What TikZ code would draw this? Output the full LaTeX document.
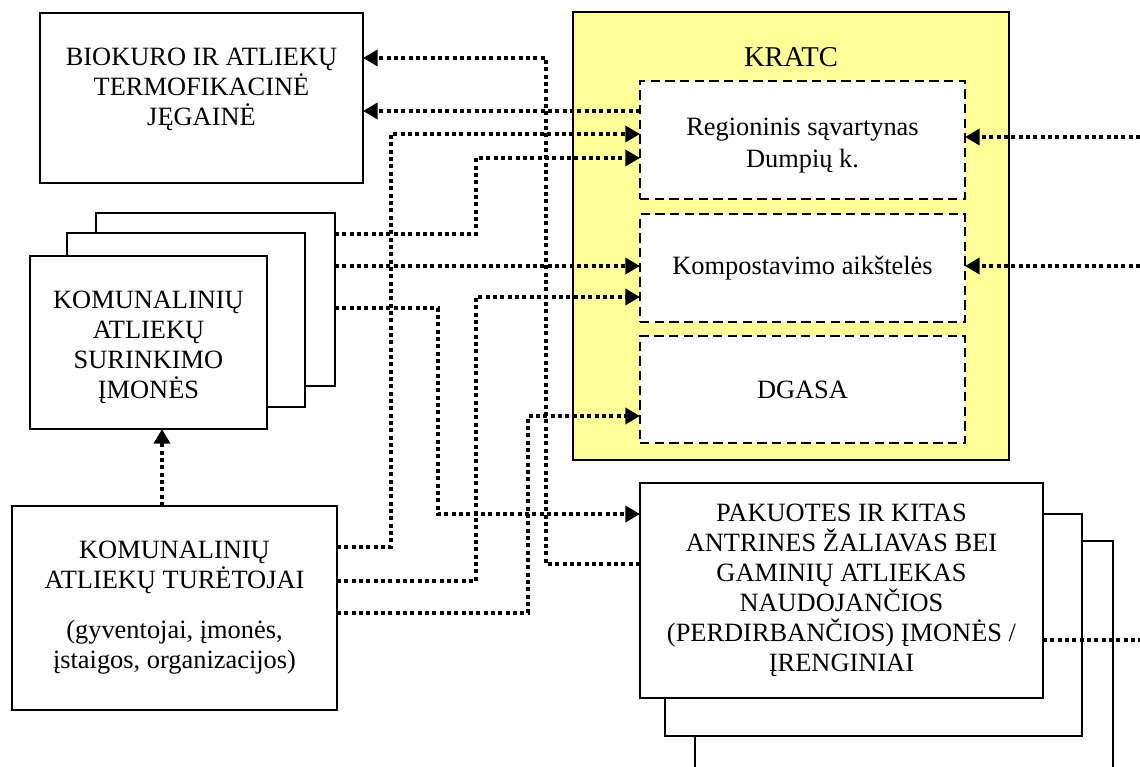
\documentclass[tikz,border=0pt]{standalone}
\usepackage{fontspec}
\setmainfont{Liberation Serif}
\usetikzlibrary{arrows.meta, positioning, calc}
\definecolor{kratcyellow}{RGB}{255,255,153}
\newcommand{\diagfont}{\fontsize{19.8pt}{22.5pt}\selectfont}

\begin{document}
\begin{tikzpicture}[x=0.75pt, y=-0.75pt,
  box/.style={draw, line width=2pt, fill=white, inner sep=0pt, outer sep=0pt, font=\diagfont, align=center},
  part/.style={box, dash pattern=on 7pt off 4pt},
  flow/.style={line width=3pt, dash pattern=on 3pt off 2.5pt, -{Triangle[length=11pt, width=12pt]}},
  txt/.style={font=\diagfont, align=center, inner sep=0pt}]
  \useasboundingbox (0,0) rectangle (1140,767);
  \clip (0,0) rectangle (1140,767);

  % KRATC and its parts
  \node[draw, line width=2pt, fill=kratcyellow, minimum width=327pt, minimum height=336pt, outer sep=0pt] (kratc) at (791,236) {};
  \node[txt, font=\fontsize{21.5pt}{24pt}\selectfont] (kratcT) at (791,57) {KRATC};
  \node[part, minimum width=243.75pt, minimum height=88.5pt] (reg) at (802.5,140) {};
  \node[txt, font=\fontsize{19.8pt}{24pt}\selectfont] (regT) at (802.5,146) {Regioninis sąvartynas\\Dumpių k.};
  \node[part, minimum width=243.75pt, minimum height=81pt] (komp) at (802.5,268) {Kompostavimo aikštelės};
  \node[part, minimum width=243.75pt, minimum height=80.25pt] (dgasa) at (802.5,389.5) {DGASA};

  % power plant
  \node[box, minimum width=242.25pt, minimum height=127.5pt] (bio) at (201.5,98) {};
  \node[txt] (bioT) at (201.5,89.5) {BIOKURO IR ATLIEKŲ\\TERMOFIKACINĖ\\JĘGAINĖ};

  % collecting companies (stack)
  \node[box, minimum width=179.25pt, minimum height=129.75pt] (surA) at (215.5,299.5) {};
  \node[box, minimum width=178.5pt, minimum height=130.5pt] (surB) at (186,320) {};
  \node[box, minimum width=177.75pt, minimum height=129.75pt] (sur) at (148.5,342.5) {};
  \node[txt] (surT) at (148.5,347) {KOMUNALINIŲ\\ATLIEKŲ\\SURINKIMO\\ĮMONĖS};

  % waste holders
  \node[box, minimum width=243.75pt, minimum height=153pt] (tur) at (174.5,608) {KOMUNALINIŲ\\ATLIEKŲ TURĖTOJAI\\[15pt](gyventojai, įmonės,\\įstaigos, organizacijos)};

  % recycling companies (stack)
  \node[box, minimum width=313.5pt, minimum height=194.25pt] (pakC) at (904,670.5) {};
  \node[box, minimum width=312.75pt, minimum height=166.5pt] (pakB) at (873.5,625) {};
  \node[box, minimum width=302.25pt, minimum height=161.25pt] (pak) at (841.5,590.5) {PAKUOTES IR KITAS\\ANTRINES ŽALIAVAS BEI\\GAMINIŲ ATLIEKAS\\NAUDOJANČIOS\\(PERDIRBANČIOS) ĮMONĖS /\\ĮRENGINIAI};

  % free ends at the right border
  \coordinate (inReg) at (1140,137);
  \coordinate (inKomp) at (1140,266);
  \coordinate (outPak) at (1140,640);

  % flows
  \draw[flow] (pak.west |- 0,564) -| (546,58) -- (bio.east |- 0,58);
  \draw[flow] (reg.west |- 0,111) -- (bio.east |- 0,111);
  \draw[flow] (tur.east |- 0,547) -| (391,134) -- (reg.west |- 0,134);
  \draw[flow] (surA.east |- 0,234) -| (476,158) -- (reg.west |- 0,158);
  \draw[flow] (surA.east |- 0,266) -- (komp.west |- 0,266);
  \draw[flow] (tur.east |- 0,581) -| (476,297) -- (komp.west |- 0,297);
  \draw[flow] (surA.east |- 0,308) -| (438,514) -- (pak.west |- 0,514);
  \draw[flow] (tur.east |- 0,613) -| (528,416) -- (dgasa.west |- 0,416);
  \draw[flow] (tur.north -| 162,0) -- (sur.south -| 162,0);
  \draw[flow] (inReg) -- (reg.east |- inReg);
  \draw[flow] (inKomp) -- (komp.east |- inKomp);
  \draw[flow, -] (pak.east |- outPak) -- (outPak);
\end{tikzpicture}
\end{document}
